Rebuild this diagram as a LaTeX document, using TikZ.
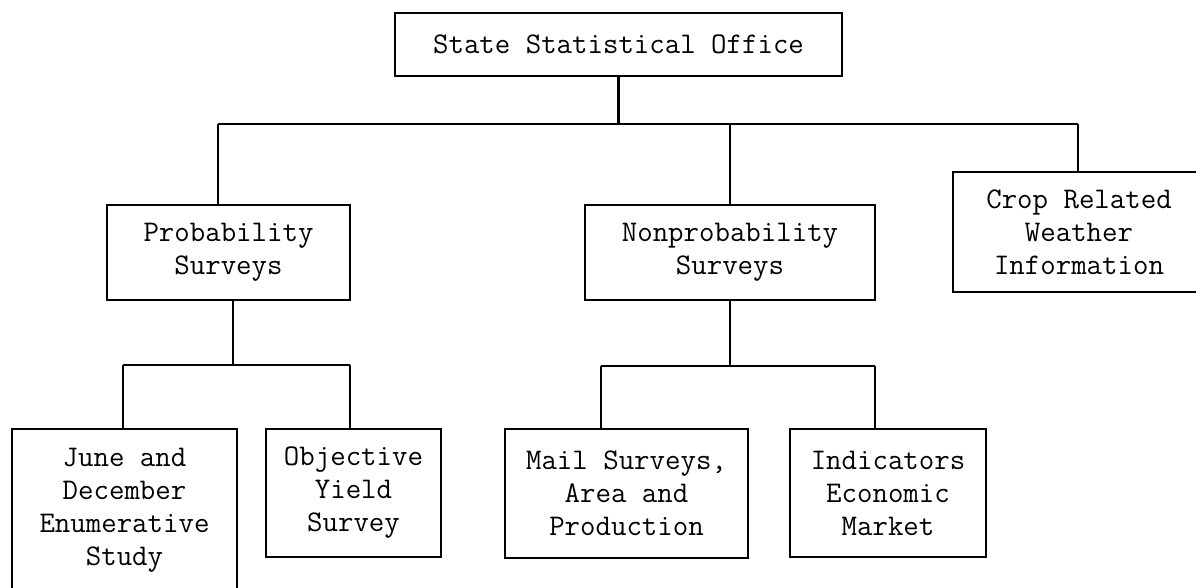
\documentclass[tikz,border=0pt]{standalone}
\usepackage{fontspec}
\begin{document}
\begin{tikzpicture}[x=1pt,y=1pt,
  box/.style={draw, line width=2pt, inner sep=0pt, align=center,
    font=\ttfamily\fontsize{30}{33}\selectfont},
  conn/.style={line width=2.2pt}]
\useasboundingbox (0,0) rectangle (1196,-588);
\clip (0,0) rectangle (1196,-588);
% boxes
\node[box, minimum width=447pt, minimum height=63pt] (top) at (618.5,-44.5) {State Statistical Office};
\node[box, minimum width=243pt, minimum height=95pt] (prob) at (228.5,-252.5) {Probability\\Surveys};
\node[box, minimum width=290pt, minimum height=95pt] (nonprob) at (730,-252.5) {Nonprobability\\Surveys};
\node[box, minimum width=252pt, minimum height=120pt] (crop) at (1079,-232) {Crop Related\\Weather\\Information};
\node[box, minimum width=225pt, minimum height=162pt] (june) at (124.5,-510) {June and\\December\\Enumerative\\Study};
\node[box, minimum width=175pt, minimum height=128pt] (obj) at (353.5,-493) {Objective\\Yield\\Survey};
\node[box, minimum width=243pt, minimum height=129pt] (mail) at (626.5,-493.5) {Mail Surveys,\\Area and\\Production};
\node[box, minimum width=196pt, minimum height=128pt] (ind) at (888,-493) {Indicators\\Economic\\Market};
% top bus
\coordinate (busA) at (218,-124);
\coordinate (busB) at (1078,-124);
\draw[conn] (top.south) -- (top.south |- busA);
\draw[conn] (busA) -- (busB);
\draw[conn] (busA) -- (busA |- prob.north);
\draw[conn] (nonprob.north |- busA) -- (nonprob.north);
\draw[conn] (busB) -- (busB |- crop.north);
% probability bus
\coordinate (pbus) at (233,-365);
\coordinate (pbusL) at (123,-365);
\coordinate (pbusR) at (350,-365);
\draw[conn] (pbus |- prob.south) -- (pbus);
\draw[conn] (pbusL) -- (pbusR);
\draw[conn] (pbusL) -- (pbusL |- june.north);
\draw[conn] (pbusR) -- (pbusR |- obj.north);
% nonprobability bus
\coordinate (nbusL) at (601,-366);
\coordinate (nbusR) at (875,-366);
\draw[conn] (nonprob.south) -- (nonprob.south |- nbusL);
\draw[conn] (nbusL) -- (nbusR);
\draw[conn] (nbusL) -- (nbusL |- mail.north);
\draw[conn] (nbusR) -- (nbusR |- ind.north);
\end{tikzpicture}
\end{document}
